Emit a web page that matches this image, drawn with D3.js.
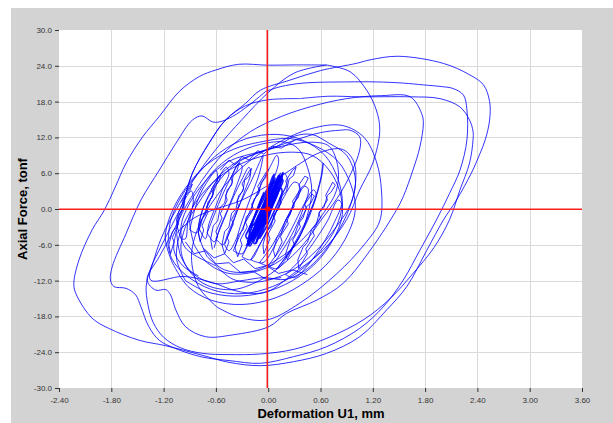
<!DOCTYPE html>
<html>
<head>
<meta charset="utf-8">
<script src="https://cdn.jsdelivr.net/npm/d3@7"></script>
<style>
  body { margin: 0; background: #fff; }
  svg text { font-family: "Liberation Sans", Arial, sans-serif; }
</style>
</head>
<body>
<script>
// tick values
var xTicks = [-2.4, -1.8, -1.2, -0.6, 0, 0.6, 1.2, 1.8, 2.4, 3.0, 3.6];
var yTicks = [-30, -24, -18, -12, -6, 0, 6, 12, 18, 24, 30];

// big cycles (deformation mm, force tonf)
var bigLoop1 = [[0.67,24.13],[0.3,24.15],[0.0,24.1],[-0.34,24.25],[-0.6,23.3],[-0.79,22.2],[-1.02,19.7],[-1.25,15.5],[-1.44,12.1],[-1.63,7.7],[-1.76,3.5],[-1.88,-0.2],[-2.02,-3.5],[-2.17,-8.5],[-2.23,-12.7],[-2.19,-14.7],[-2.02,-18.3],[-1.83,-20.0],[-1.48,-22.0],[-1.18,-22.9],[-0.76,-24.5],[-0.45,-25.7],[-0.09,-26.26],[0.29,-25.59],[0.67,-24.19],[1.05,-21.4],[1.36,-16.9],[1.59,-13.0],[1.82,-6.9],[2.01,-1.84],[2.16,1.5],[2.33,6.0],[2.43,9.3],[2.49,11.6],[2.54,14.9],[2.54,18.0],[2.47,20.8],[2.31,22.5],[2.01,24.4],[1.49,25.6],[1.17,25.0],[1.01,24.4],[0.6,23.2],[0.25,21.6],[-0.09,19.9],[-0.26,17.7],[-0.49,14.9],[-0.68,11.0],[-0.87,6.0],[-0.99,-0.2],[-1.05,-3.5],[-1.08,-7],[-0.98,-9.5],[-0.8,-11.2]];
var bigLoop2 = [[-0.03,19.7],[-0.22,17.4],[-0.41,15.5],[-0.56,14.6],[-0.64,14.6],[-0.76,15.6],[-0.87,14.9],[-1.06,11.0],[-1.25,6.5],[-1.46,1.5],[-1.63,-4.1],[-1.79,-9.7],[-1.81,-11.9],[-1.77,-13.0],[-1.63,-13.3],[-1.52,-14.4],[-1.46,-16.4],[-1.37,-19.7],[-1.25,-22.0],[-1.06,-23.4],[-0.76,-24.8],[-0.45,-25.4],[-0.09,-25.86],[0.29,-24.75],[0.67,-23.08],[1.05,-20.0],[1.32,-16.4],[1.55,-11.9],[1.74,-6.9],[1.93,-1.84],[2.08,2.6],[2.2,6.5],[2.28,11.6],[2.28,16.6],[2.24,19.1],[2.12,20.2],[2.0,20.5],[1.78,20.8],[1.55,21.1],[1.24,21.3],[0.9,21.3],[0.4,21.1],[0.14,20.5],[-0.03,19.7]];
var bigLoop3 = [[0.36,18.5],[0.7,18.9],[1.05,18.8],[1.63,18.8],[1.97,18.5],[2.2,17.1],[2.31,14.9],[2.35,13.0],[2.35,11.6],[2.31,7.7],[2.2,3.2],[2.08,-1.8],[1.9,-6.5],[1.65,-11],[1.4,-15],[1.1,-18.5],[0.7,-21.5],[0.3,-23.5],[-0.09,-24.3],[-0.45,-24.4],[-0.75,-24.2],[-1.0,-23.3],[-1.2,-21.5],[-1.32,-19],[-1.38,-16],[-1.4,-13],[-1.35,-10],[-1.22,-6],[-1.08,-2],[-0.98,1],[-0.87,6],[-0.68,11],[-0.49,14.9],[-0.26,17.3],[0.0,18.3],[0.36,18.5]];
var bigLoop4 = [[-0.97,-0.2],[-1.1,-4],[-1.25,-8],[-1.39,-11.9],[-1.29,-13.6],[-1.175,-13.5],[-1.12,-14.4],[-1.06,-16.9],[-0.95,-19.7],[-0.72,-21.4],[-0.41,-21.1],[0.01,-19.7],[0.21,-17.5],[0.56,-15.25],[0.86,-12.45],[1.2,-6.3],[1.47,-0.2],[1.55,2.1],[1.66,6.5],[1.74,10.4],[1.78,14.4],[1.76,16.0],[1.63,18.8],[1.3,19.0],[0.9,18.5],[0.5,17.2],[0.15,15.5],[-0.2,13],[-0.5,9.5],[-0.75,5],[-0.97,-0.2]];
var bigLoop5 = [[0.67,24.13],[0.94,23.0],[1.13,19.9],[1.24,16.6],[1.28,13.2],[1.2,7.7],[1.05,3.2],[0.9,-1.8],[0.63,-6.9],[0.29,-10.8],[-0.02,-13.9],[-0.32,-13.9],[-0.67,-12.2],[-0.97,-11.3],[-1.35,-11.9],[-1.3,-8],[-1.2,-4],[-1.05,0],[-0.85,5],[-0.6,10],[-0.3,15],[0.0,19.5],[0.3,22.8],[0.67,24.13]];
var bigLoop6 = [[-0.59,-16.4],[-0.36,-18.0],[-0.02,-18.6],[0.36,-15.8],[0.79,-10.8],[1.1,-6],[1.28,-2],[1.3,3],[1.24,8],[1.1,12],[0.85,14],[0.5,13.5],[0.1,11],[-0.3,7],[-0.6,2],[-0.8,-3],[-0.88,-8],[-0.8,-13],[-0.59,-16.4]];

// medium cycles
var midLoop1 = [[0.0,10],[0.3,11.5],[0.6,12.8],[0.82,13.2],[0.94,13.2],[1.05,12.1],[1.05,9.9],[0.95,6],[0.8,2],[0.6,-2],[0.4,-6],[0.15,-9.5],[-0.1,-12],[-0.4,-13.5],[-0.7,-12.8],[-0.9,-10.5],[-1.0,-7],[-0.95,-3],[-0.8,1],[-0.6,5],[-0.35,8],[0.0,10]];
var midLoop2 = [[-0.85,-6],[-0.9,-2],[-0.82,2],[-0.65,6],[-0.4,9],[-0.1,10.8],[0.2,11.2],[0.35,10],[0.45,7],[0.5,3],[0.45,-1],[0.35,-5],[0.15,-8.5],[-0.15,-10.5],[-0.45,-10.8],[-0.7,-9],[-0.85,-6]];
var midLoop3 = [[-0.7,-8],[-0.8,-4],[-0.75,0],[-0.6,4],[-0.38,7.5],[-0.15,9.2],[0.15,10.5],[0.5,11.2],[0.7,10.5],[0.8,7],[0.78,3],[0.62,-1],[0.4,-5],[0.1,-8.5],[-0.2,-10.5],[-0.5,-10.2],[-0.7,-8]];
var midLoop4 = [[-0.6,-9.5],[-0.95,-6.5],[-1.0,-3],[-0.9,1],[-0.7,5],[-0.45,8],[-0.1,9.6],[0.1,10.5],[0.3,12.2],[0.5,12.5],[0.7,11],[0.9,9],[1.0,5],[0.95,1],[0.78,-3],[0.55,-7],[0.25,-10.5],[-0.1,-12.2],[-0.4,-11.8],[-0.6,-9.5]];
var midLoop5 = [[-1.05,-4],[-1.0,-8],[-0.85,-11],[-0.6,-12.5],[-0.3,-12],[-0.05,-11.5],[0.2,-11.8],[0.45,-10],[0.7,-6],[0.9,-1],[1.0,4],[0.98,8],[0.85,10],[0.6,9.5],[0.3,7],[0.0,4],[-0.3,1.5],[-0.6,0],[-0.85,-1.5],[-1.05,-4]];
var midLoop6 = [[-1.15,-6],[-1.12,-2],[-1.0,2],[-0.8,6],[-0.55,9.5],[-0.25,11.8],[0.1,12.5],[0.4,11.5],[0.65,9],[0.8,5],[0.85,1],[0.78,-3],[0.6,-7],[0.35,-10.5],[0.05,-13],[-0.3,-14.2],[-0.65,-13.5],[-0.95,-11],[-1.1,-8.5],[-1.15,-6]];
var midLoop7 = [[-1.1,-9],[-1.18,-5],[-1.12,-1],[-0.95,3.5],[-0.7,7.5],[-0.4,10],[-0.1,11.2],[0.25,11.8],[0.55,10.5],[0.8,8],[0.95,4],[1.0,0],[0.92,-4],[0.72,-8.5],[0.45,-12],[0.1,-14.8],[-0.3,-16],[-0.65,-15.3],[-0.92,-13],[-1.1,-9]];
var midLoop8 = [[-0.95,-12],[-1.05,-8.5],[-1.02,-4.5],[-0.9,-0.5],[-0.7,3.5],[-0.45,6.5],[-0.15,8.5],[0.2,9.5],[0.5,9],[0.7,6.5],[0.82,3],[0.85,-1],[0.75,-5],[0.55,-9],[0.28,-12],[-0.05,-14],[-0.4,-14.6],[-0.72,-13.8],[-0.95,-12]];

// narrow inner cycles
var fingers = [
  [[-0.8,-3],[-0.75,0],[-0.66,3],[-0.56,5.5],[-0.48,7],[-0.45,6],[-0.52,3.5],[-0.6,0.5],[-0.68,-2.5],[-0.72,-5],[-0.8,-3]],
  [[-0.7,-4],[-0.62,-1],[-0.52,2.5],[-0.42,5.5],[-0.34,7.6],[-0.3,7.2],[-0.36,4],[-0.45,0.5],[-0.55,-3],[-0.62,-5.5],[-0.7,-4]],
  [[-0.6,-5],[-0.5,-1.5],[-0.4,2],[-0.3,5],[-0.22,7],[-0.2,6],[-0.27,3],[-0.36,-0.5],[-0.46,-4],[-0.52,-6],[-0.6,-5]],
  [[-0.5,-6],[-0.42,-3],[-0.32,1],[-0.2,4.5],[-0.1,7.8],[-0.06,9],[-0.1,6],[-0.2,2],[-0.3,-2],[-0.38,-5.5],[-0.45,-7],[-0.5,-6]],
  [[-0.4,-7],[-0.3,-3.5],[-0.2,0],[-0.1,3.5],[0.02,7],[0.1,9],[0.12,8],[0.05,4.5],[-0.05,1],[-0.18,-3],[-0.3,-7.5],[-0.4,-7]],
  [[-0.3,-8],[-0.18,-4.5],[-0.05,-0.5],[0.08,3],[0.18,6],[0.22,5],[0.15,2],[0.05,-2],[-0.08,-5.5],[-0.2,-8.5],[-0.3,-8]],
  [[-0.2,-8.5],[-0.06,-5],[0.06,-1.5],[0.18,2],[0.3,4.5],[0.36,4],[0.3,1],[0.2,-2.5],[0.08,-6],[-0.06,-9],[-0.2,-8.5]],
  [[-0.1,-9],[0.05,-6],[0.18,-2.5],[0.3,1],[0.42,3.8],[0.46,3.3],[0.4,0],[0.3,-3.5],[0.16,-7],[0.02,-9.5],[-0.1,-9]],
  [[0.0,-9.5],[0.15,-6.5],[0.28,-3],[0.4,0.5],[0.52,3.2],[0.55,2.5],[0.48,-0.5],[0.38,-4],[0.24,-7.5],[0.1,-10],[0.0,-9.5]],
  [[-0.9,-3.5],[-0.85,-0.5],[-0.78,2.5],[-0.68,5],[-0.6,6.5],[-0.58,5],[-0.65,2],[-0.74,-1],[-0.82,-4],[-0.9,-3.5]],
  [[-1.0,-5],[-1.05,-2],[-0.98,1],[-0.88,3],[-0.86,1],[-0.92,-2],[-0.95,-5],[-1.0,-5]],
  [[0.2,-11],[0.4,-8],[0.55,-5],[0.68,-2],[0.8,1.5],[0.84,1],[0.75,-2.5],[0.62,-6],[0.45,-9.5],[0.3,-11.5],[0.2,-11]],
  [[0.1,-10],[0.3,-6],[0.45,-2],[0.55,2],[0.62,6],[0.63,7.7],[0.6,5],[0.52,1],[0.4,-3],[0.25,-7],[0.1,-10]]
];

// jagged small cycles (vibration teeth on the branches)
var jagged = [
  [[-0.62,-6.5],[-0.58,-4.5],[-0.6,-3.8],[-0.53,-1.5],[-0.55,-0.8],[-0.47,1.5],[-0.49,2.3],[-0.41,4.5],[-0.43,5.2],[-0.36,7.2],[-0.33,7.8],[-0.36,6.4],[-0.4,5.8],[-0.42,4],[-0.47,3.2],[-0.5,1],[-0.55,0.3],[-0.58,-2],[-0.63,-2.8],[-0.66,-5],[-0.64,-6.8]],
  [[-0.5,-7.5],[-0.45,-5.5],[-0.47,-4.8],[-0.4,-2.5],[-0.42,-1.8],[-0.34,0.5],[-0.36,1.3],[-0.28,3.5],[-0.3,4.2],[-0.22,6.3],[-0.19,6.8],[-0.22,5.5],[-0.27,4.8],[-0.29,3],[-0.34,2.2],[-0.37,0],[-0.42,-0.7],[-0.45,-3],[-0.5,-3.8],[-0.53,-6],[-0.5,-7.5]],
  [[-0.05,-7.5],[0.02,-5],[0.0,-4.2],[0.08,-2],[0.06,-1.2],[0.15,1],[0.13,1.8],[0.22,4],[0.2,4.7],[0.28,6.5],[0.32,7],[0.29,5.6],[0.24,5],[0.21,3],[0.16,2.2],[0.12,0],[0.07,-0.8],[0.03,-3],[-0.02,-3.8],[-0.06,-6],[-0.05,-7.5]],
  [[0.08,-8],[0.16,-5.5],[0.14,-4.6],[0.23,-2.5],[0.21,-1.6],[0.3,0.5],[0.28,1.3],[0.37,3.3],[0.35,4],[0.42,5.5],[0.46,5.2],[0.42,4],[0.38,3.6],[0.34,1.8],[0.29,1],[0.25,-1],[0.2,-1.8],[0.15,-4],[0.1,-4.8],[0.06,-7],[0.08,-8]],
  [[0.22,-8.5],[0.3,-6],[0.28,-5.2],[0.37,-3],[0.35,-2.2],[0.44,0],[0.42,0.8],[0.5,2.5],[0.53,2.2],[0.49,1],[0.44,0.4],[0.4,-1.5],[0.35,-2.4],[0.3,-4.5],[0.25,-5.3],[0.2,-7.5],[0.22,-8.5]],
  [[-0.78,-5.5],[-0.74,-3.5],[-0.76,-2.8],[-0.69,-0.5],[-0.71,0.3],[-0.63,2.5],[-0.65,3.3],[-0.57,5.2],[-0.54,5.7],[-0.57,4.5],[-0.62,3.8],[-0.64,2],[-0.69,1.2],[-0.72,-1],[-0.77,-1.8],[-0.8,-4],[-0.78,-5.5]],
  [[-0.35,-8],[-0.3,-6],[-0.32,-5.2],[-0.24,-3],[-0.26,-2.2],[-0.17,0],[-0.19,0.8],[-0.1,3],[-0.12,3.8],[-0.03,6],[0.0,6.6],[-0.03,5.2],[-0.08,4.5],[-0.11,2.5],[-0.16,1.7],[-0.2,-0.5],[-0.25,-1.3],[-0.29,-3.5],[-0.34,-4.3],[-0.38,-6.5],[-0.35,-8]],
  [[-1.12,-7.5],[-1.08,-5.5],[-1.1,-4.8],[-1.03,-2.5],[-1.05,-1.8],[-0.97,0.5],[-0.99,1.3],[-0.9,3.5],[-0.87,4.2],[-0.9,3],[-0.95,2.3],[-0.97,0],[-1.02,-0.8],[-1.05,-3],[-1.1,-3.8],[-1.14,-6],[-1.12,-7.5]],
  [[0.35,-10],[0.45,-7.5],[0.43,-6.7],[0.53,-4.5],[0.51,-3.7],[0.6,-1.5],[0.58,-0.7],[0.68,1.5],[0.66,2.3],[0.74,4.5],[0.77,4],[0.72,2.8],[0.68,2.3],[0.64,0.3],[0.59,-0.5],[0.55,-2.6],[0.5,-3.4],[0.45,-5.6],[0.4,-6.4],[0.34,-8.5],[0.35,-10]],
  [[-0.55,6.5],[-0.45,8.2],[-0.38,7.4],[-0.3,8.8],[-0.22,8.2],[-0.12,9.8],[-0.05,9.2],[0.05,10.5],[0.15,10.2],[0.3,11.5]],
  [[-0.75,-6.5],[-0.62,-8.2],[-0.5,-7.5],[-0.4,-9],[-0.28,-8.4],[-0.15,-10],[-0.02,-9.5],[0.12,-10.8],[0.28,-10.2],[0.45,-11]],
  [[-0.95,-5.5],[-0.85,-7.5],[-0.72,-7],[-0.6,-9.2],[-0.45,-9],[-0.32,-10.6],[-0.18,-10.4],[-0.02,-11.8],[0.15,-11.5]]
];

// dense core around the origin
var coreLoops = [
  [[-0.2,-5.5],[-0.1,-2],[0.0,1.5],[0.08,4.2],[0.14,6.0],[0.1,4.5],[0.02,1.5],[-0.07,-1.5],[-0.16,-4.5],[-0.22,-6],[-0.2,-5.5]],
  [[-0.18,-5],[-0.08,-1.5],[0.02,2],[0.1,4.8],[0.12,5],[0.06,2.5],[-0.04,-1],[-0.14,-4.5],[-0.18,-5]],
  [[-0.24,-5.5],[-0.14,-2.5],[-0.04,1],[0.04,3.8],[0.08,5.2],[0.04,3.5],[-0.06,0],[-0.16,-3.2],[-0.24,-5.5]],
  [[-0.15,-4],[-0.06,-1],[0.04,2.5],[0.12,5.2],[0.16,5.5],[0.12,3.2],[0.02,0],[-0.08,-3],[-0.15,-4]],
  [[-0.2,-4.5],[-0.12,-2],[-0.02,1.5],[0.06,4.5],[0.09,4],[0.0,1],[-0.1,-2.5],[-0.19,-5.2],[-0.2,-4.5]],
  [[-0.12,-3],[-0.04,0],[0.05,3],[0.1,4.2],[0.07,2],[-0.03,-1],[-0.12,-3.5],[-0.12,-3]],
  [[-0.22,-3.5],[-0.15,-1],[-0.06,2],[0.0,3.5],[-0.02,1.5],[-0.12,-1.5],[-0.2,-4.8],[-0.22,-3.5]],
  [[-0.1,-5],[-0.02,-2],[0.06,1],[0.14,3.5],[0.16,3],[0.08,0],[-0.02,-3],[-0.1,-5]],
  [[-0.26,-4.5],[-0.18,-2],[-0.1,1],[-0.05,2.8],[-0.08,1.5],[-0.16,-1.5],[-0.24,-5],[-0.26,-4.5]],
  [[-0.05,-2],[0.02,1],[0.1,3.8],[0.12,3.2],[0.05,0.5],[-0.03,-2.5],[-0.05,-2]],
  [[-0.23,-6],[-0.13,-3],[-0.03,0.5],[0.06,3.5],[0.12,5.6],[0.13,5.4],[0.07,3],[-0.02,-0.2],[-0.12,-3.4],[-0.21,-6.2],[-0.23,-6]],
  [[-0.17,-5.6],[-0.09,-3],[0.01,0.4],[0.09,3.2],[0.15,5],[0.17,4.8],[0.11,2.6],[0.02,-0.5],[-0.07,-3.2],[-0.15,-5.8],[-0.17,-5.6]],
  [[-0.25,-6.2],[-0.17,-3.8],[-0.08,-0.6],[0.0,2.4],[0.05,4.2],[0.03,4],[-0.03,1.6],[-0.11,-1.4],[-0.19,-4.2],[-0.25,-6.2]],
  [[-0.14,-5.8],[-0.05,-2.6],[0.05,0.8],[0.13,3.9],[0.17,6.1],[0.15,5.6],[0.08,2.6],[-0.01,-0.6],[-0.1,-3.6],[-0.14,-5.8]],
  [[-0.21,-3],[-0.11,0],[-0.01,3],[0.05,5.4],[0.07,5.8],[0.03,3.8],[-0.06,0.6],[-0.15,-2.4],[-0.21,-3]]
];

var W = 613, H = 423;
var plotL = 59, plotR = 582, plotT = 30, plotB = 388;

var svg = d3.select("body").append("svg")
    .attr("width", W)
    .attr("height", H);

// grey frame
svg.append("rect").attr("x", 11).attr("y", 8).attr("width", W - 11).attr("height", H - 8).attr("fill", "#d3d3d3");
svg.append("rect").attr("x", plotL).attr("y", plotT).attr("width", plotR - plotL).attr("height", plotB - plotT).attr("fill", "#fff");

var x = d3.scaleLinear().domain([-2.4, 3.6]).range([plotL, plotR]);
var y = d3.scaleLinear().domain([-30, 30]).range([plotB, plotT]);

svg.append("clipPath").attr("id", "plot")
  .append("rect").attr("x", plotL).attr("y", plotT).attr("width", plotR - plotL).attr("height", plotB - plotT);

// grid
var grid = svg.append("g").attr("stroke", "#dadada").attr("stroke-width", 1);
grid.selectAll(".gx").data(xTicks.slice(1, -1)).enter().append("line")
    .attr("x1", d => Math.round(x(d)) + 0.5).attr("x2", d => Math.round(x(d)) + 0.5)
    .attr("y1", plotT).attr("y2", plotB);
grid.selectAll(".gy").data(yTicks.slice(1, -1)).enter().append("line")
    .attr("y1", d => Math.round(y(d)) + 0.5).attr("y2", d => Math.round(y(d)) + 0.5)
    .attr("x1", plotL).attr("x2", plotR);

// axes
var yAxis = svg.append("g").attr("transform", "translate(" + plotL + ",0)")
    .call(d3.axisLeft(y).tickValues(yTicks).tickFormat(d => d.toFixed(1)).tickSize(4).tickPadding(3));
var xAxis = svg.append("g").attr("transform", "translate(0," + plotB + ")")
    .call(d3.axisBottom(x).tickValues(xTicks).tickFormat(d => d.toFixed(2)).tickSize(4).tickPadding(5));
[yAxis, xAxis].forEach(function(a) {
  a.select(".domain").remove();
  a.selectAll("line").attr("stroke", "#333");
  a.selectAll("text").attr("fill", "#333").style("font-size", "8px").style("font-family", "'Liberation Sans', Arial, sans-serif");
});

// axis titles
svg.append("text")
    .attr("transform", "translate(27,209) rotate(-90)")
    .attr("text-anchor", "middle")
    .style("font-size", "13px").style("font-weight", "bold")
    .text("Axial Force, tonf");
svg.append("text")
    .attr("x", 321).attr("y", 418)
    .attr("text-anchor", "middle")
    .style("font-size", "13px").style("font-weight", "bold")
    .text("Deformation U1, mm");

// hysteresis curves
var smooth = d3.line()
    .x(d => x(d[0]))
    .y(d => y(d[1]))
    .curve(d3.curveCatmullRom.alpha(0.5));
var straight = d3.line()
    .x(d => x(d[0]))
    .y(d => y(d[1]));

var bigLoops = [bigLoop1, bigLoop2, bigLoop3, bigLoop4, bigLoop5, bigLoop6,
                midLoop1, midLoop2, midLoop3, midLoop4, midLoop5, midLoop6, midLoop7, midLoop8].concat(fingers);

var curves = svg.append("g").attr("clip-path", "url(#plot)")
    .attr("fill", "none").attr("stroke", "#0000ff");
curves.selectAll(".big").data(bigLoops).enter().append("path")
    .attr("d", smooth)
    .attr("stroke-opacity", 0.8)
    .attr("stroke-width", 1);
curves.selectAll(".jag").data(jagged).enter().append("path")
    .attr("d", straight)
    .attr("stroke-opacity", 0.8)
    .attr("stroke-width", 1);
curves.selectAll(".core").data(coreLoops).enter().append("path")
    .attr("d", smooth)
    .attr("stroke-opacity", 0.9)
    .attr("stroke-width", 1.6);

// zero lines and origin marker
svg.append("rect")
    .attr("x", plotL).attr("y", Math.round(y(0)) - 0.5)
    .attr("width", plotR - plotL).attr("height", 1.5)
    .style("fill", "#ff1e1e");
svg.append("rect")
    .attr("x", Math.round(x(0)) - 1.5).attr("y", plotT)
    .attr("width", 1.5).attr("height", plotB - plotT)
    .style("fill", "#ff1e1e");
svg.append("rect")
    .attr("x", x(0) - 2.8).attr("y", y(0) - 2.2)
    .attr("width", 4.5).attr("height", 4.5)
    .style("fill", "#ff0000");
</script>
</body>
</html>
